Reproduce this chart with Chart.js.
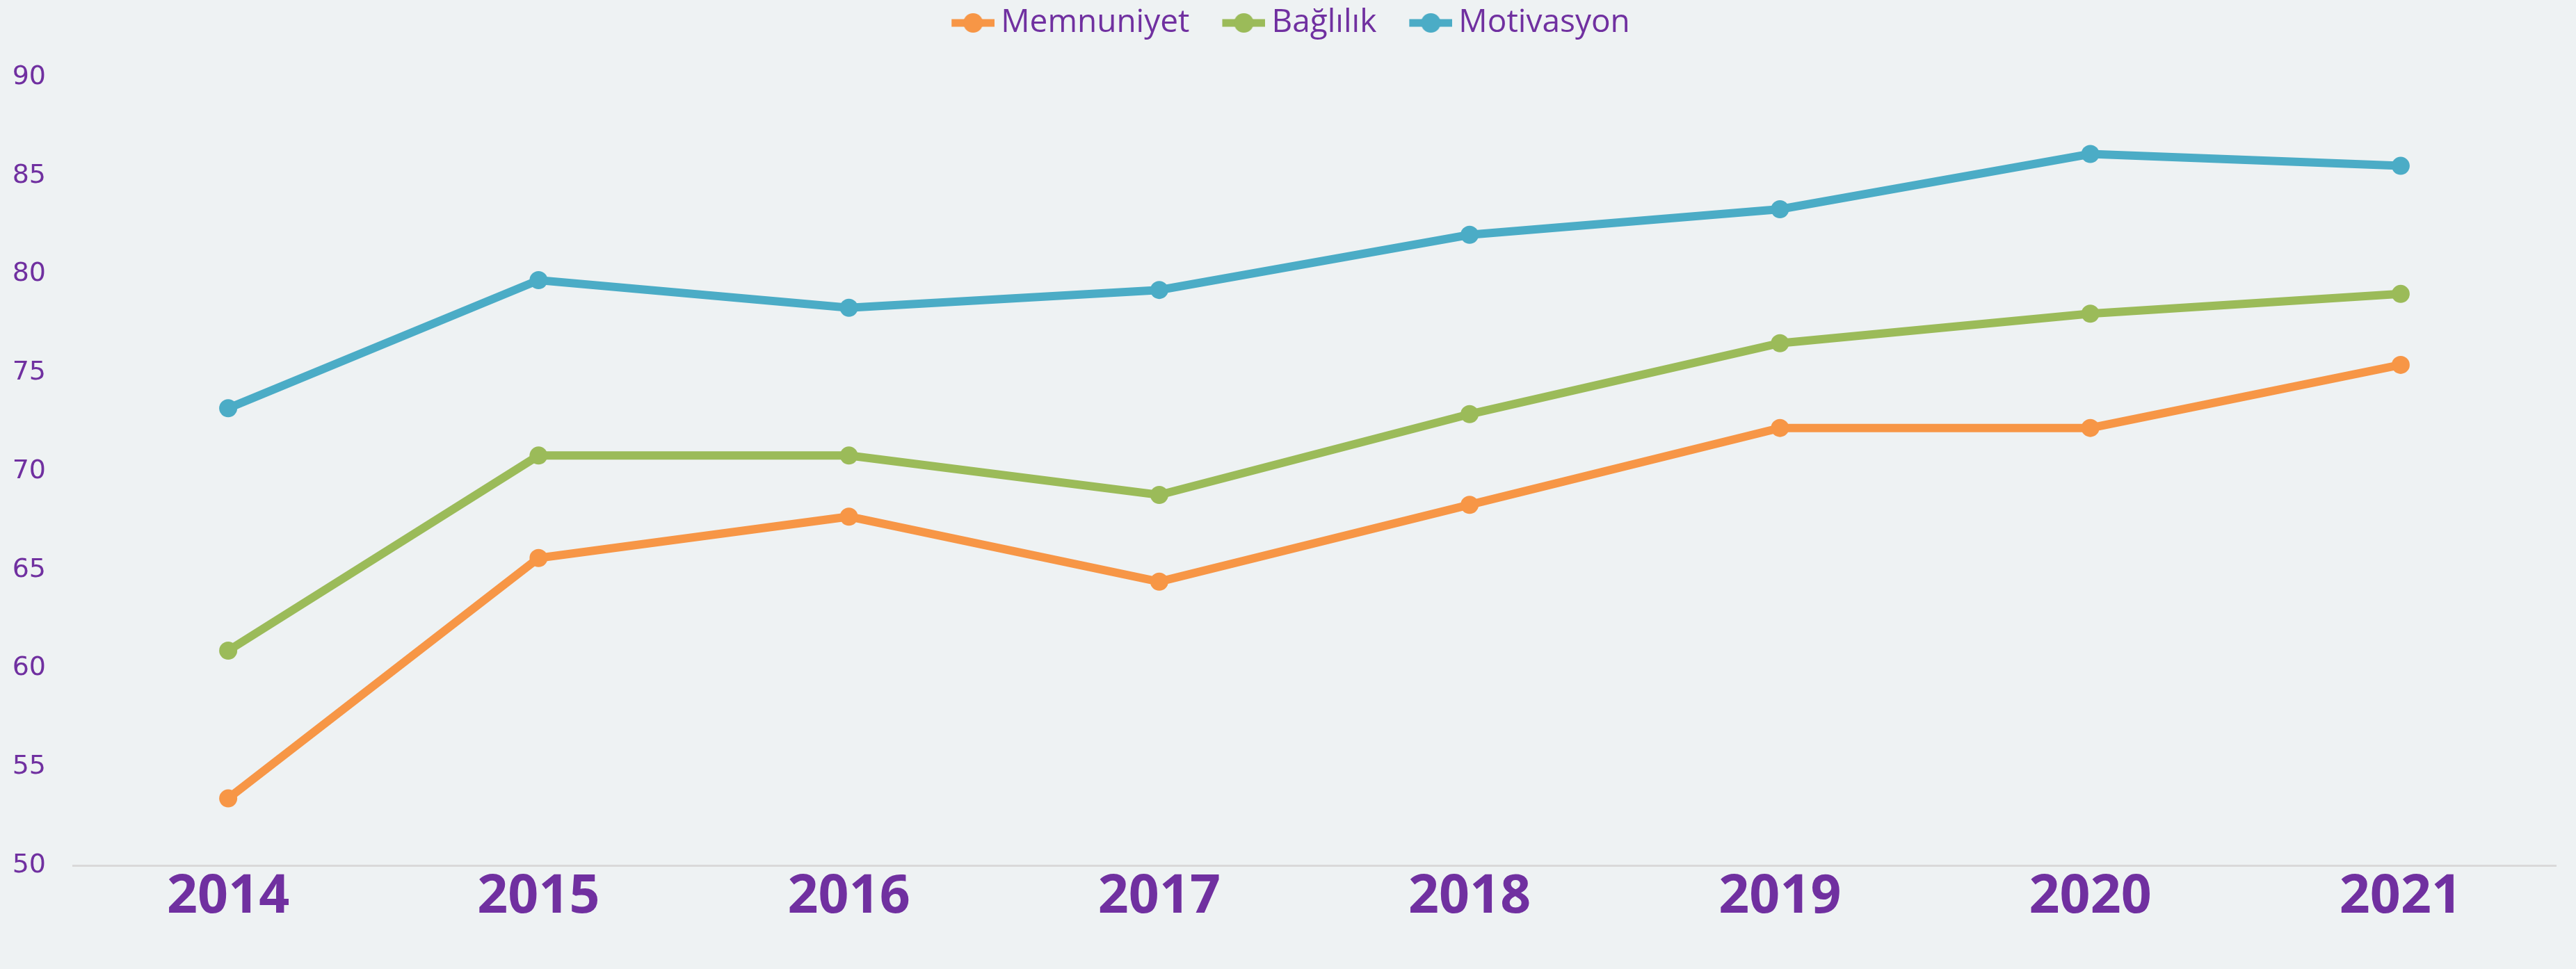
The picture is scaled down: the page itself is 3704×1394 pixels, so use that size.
<!DOCTYPE html>
<html>
<head>
<meta charset="utf-8">
<script src="https://cdn.jsdelivr.net/npm/chart.js"></script>
<style>
  html, body { margin: 0; padding: 0; background: #eef2f3; }
  #wrap { width: 3704px; height: 1394px; }
</style>
</head>
<body>
<div id="wrap"><canvas id="chart" width="3704" height="1394"></canvas></div>
<script>
const years = ['2014', '2015', '2016', '2017', '2018', '2019', '2020', '2021'];
const memnuniyet = [53.4, 65.6, 67.7, 64.4, 68.3, 72.2, 72.2, 75.4];
const baglilik = [60.9, 70.8, 70.8, 68.8, 72.9, 76.5, 78.0, 79.0];
const motivasyon = [73.2, 79.7, 78.3, 79.2, 82.0, 83.3, 86.1, 85.5];
const yTicks = [50, 55, 60, 65, 70, 75, 80, 85, 90];

const purple = '#7030a0';
const colors = { memnuniyet: '#f79646', baglilik: '#9bbb59', motivasyon: '#4bacc6' };

// legend marker: short line with a dot, drawn on the right side of a wider canvas
function legendMarker(color) {
  const c = document.createElement('canvas');
  c.width = 113;
  c.height = 32;
  const ctx = c.getContext('2d');
  ctx.strokeStyle = color;
  ctx.fillStyle = color;
  ctx.lineWidth = 11;
  ctx.beginPath();
  ctx.moveTo(51, 16);
  ctx.lineTo(113, 16);
  ctx.stroke();
  ctx.beginPath();
  ctx.arc(82, 16, 14, 0, Math.PI * 2);
  ctx.fill();
  return c;
}

function series(label, data, color) {
  return {
    label,
    data,
    borderColor: color,
    backgroundColor: color,
    borderWidth: 12,
    pointRadius: 13,
    pointHoverRadius: 13,
    pointBorderWidth: 0,
    pointStyle: 'circle',
    tension: 0,
    fill: false,
    marker: legendMarker(color),
  };
}

// leave a gap under the legend, like the original
const legendGap = {
  id: 'legendGap',
  beforeUpdate(chart) {
    const lg = chart.legend;
    if (lg && !lg.gapped) {
      const fit = lg.fit;
      lg.fit = function () {
        fit.call(this);
        this.height += 45;
      };
      lg.gapped = true;
    }
  },
};

new Chart(document.getElementById('chart'), {
  type: 'line',
  data: {
    labels: years,
    datasets: [
      series('Memnuniyet', memnuniyet, colors.memnuniyet),
      series('Bağlılık', baglilik, colors.baglilik),
      series('Motivasyon', motivasyon, colors.motivasyon),
    ],
  },
  plugins: [legendGap],
  options: {
    responsive: false,
    animation: false,
    layout: { padding: { top: 0, right: 29, bottom: 0, left: 0 } },
    plugins: {
      tooltip: { enabled: false },
      legend: {
        position: 'top',
        labels: {
          usePointStyle: true,
          pointStyleWidth: 85,
          padding: 10,
          color: purple,
          font: { family: 'Open Sans', size: 46 },
          generateLabels: (chart) => chart.data.datasets.map((ds, i) => ({
            text: ds.label,
            fontColor: purple,
            pointStyle: ds.marker,
            fillStyle: ds.borderColor,
            strokeStyle: ds.borderColor,
            lineWidth: 0,
            hidden: false,
            datasetIndex: i,
          })),
        },
      },
    },
    scales: {
      x: {
        offset: true,
        grid: { display: false, drawTicks: false },
        border: { display: true, color: '#d9d9d9', width: 3 },
        ticks: {
          color: purple,
          padding: 0,
          font: { family: 'Open Sans', size: 77, weight: 'bold' },
        },
        afterFit: (scale) => { scale.height = 149; },
      },
      y: {
        min: 50,
        max: 90,
        grid: { display: false, drawTicks: false },
        border: { display: false },
        afterBuildTicks: (scale) => { scale.ticks = yTicks.map((v) => ({ value: v })); },
        ticks: {
          color: purple,
          padding: 39,
          font: { family: 'DejaVu Sans', size: 38 },
        },
        afterFit: (scale) => { scale.width = 105; },
      },
    },
  },
});
</script>
</body>
</html>
